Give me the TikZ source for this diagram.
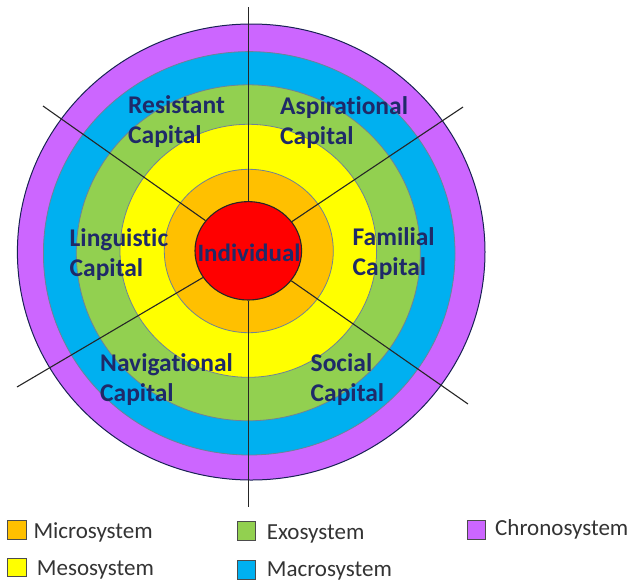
\documentclass[tikz,border=0pt]{standalone}
\usepackage{fontspec}
\setmainfont{Carlito}[Ligatures=NoCommon]
\usetikzlibrary{shapes.geometric}
\definecolor{cpurple}{RGB}{204,102,255}
\definecolor{cblue}{RGB}{0,176,240}
\definecolor{cgreen}{RGB}{146,208,80}
\definecolor{cyellow}{RGB}{255,255,0}
\definecolor{corange}{RGB}{255,192,0}
\definecolor{cred}{RGB}{255,0,0}
\definecolor{cnavy}{RGB}{31,42,104}
\definecolor{cring}{RGB}{110,130,150}
\tikzset{
  ring/.style={draw=cring, line width=0.8pt},
  spoke/.style={draw=black!85, line width=1.1pt},
  captext/.style={font=\fontsize{25.5}{30}\selectfont\bfseries, text=cnavy, align=left, anchor=base west, inner sep=0pt},
  legbox/.style={draw=black!70, line width=0.8pt, minimum size=18.5pt, inner sep=0pt},
  legtext/.style={font=\fontsize{23}{26}\selectfont, text=black!80, anchor=base west, inner sep=0pt}
}
\begin{document}
\begin{tikzpicture}[x=1pt,y=-1pt]
\useasboundingbox (0,0) rectangle (631,584);
% rings
\fill[cpurple, draw=cnavy!80!black, line width=1pt] (251.2,252) ellipse [x radius=233.8, y radius=228];
\filldraw[ring, fill=cblue] (249.2,253.3) ellipse [x radius=205.8, y radius=201.7];
\filldraw[ring, fill=cgreen] (248.3,252.8) ellipse [x radius=172, y radius=168];
\filldraw[ring, fill=cyellow] (248.3,250.8) ellipse [x radius=128.3, y radius=126.5];
\filldraw[ring, fill=corange] (248.8,251) ellipse [x radius=84.5, y radius=81.7];
% center
\node[ellipse, draw=black!85, line width=1.1pt, fill=cred, minimum width=106.6pt, minimum height=98.4pt, inner sep=0pt] (ind) at (248.3,250.8) {};
\node[font=\fontsize{25}{30}\selectfont\bfseries, text=cnavy, anchor=base, inner sep=0pt] (indt) at (249,261.5) {Individual};
% spokes
\coordinate (top) at (248.3,7);
\coordinate (bot) at (248.3,507);
\coordinate (ul) at (43,106);
\coordinate (ur) at (463,107);
\coordinate (ll) at (17,387);
\coordinate (lr) at (468,404);
\draw[spoke] (top) -- (ind);
\draw[spoke] (ind) -- (bot);
\draw[spoke] (ul) -- (ind);
\draw[spoke] (ur) -- (ind);
\draw[spoke] (ll) -- (ind);
\draw[spoke] (lr) -- (ind);
% capitals (anchor = baseline of the last line)
\node[captext] (res) at (128,143) {Resistant\\Capital};
\node[captext] (asp) at (280,144) {Aspirational\\Capital};
\node[captext] (lin) at (69.5,276.5) {Linguistic\\Capital};
\node[captext] (fam) at (352.5,275.5) {Familial\\Capital};
\node[captext] (nav) at (100,401.5) {Navigational\\Capital};
\node[captext] (soc) at (310.5,401) {Social\\Capital};
% legend
\node[legbox, fill=corange] (b1) at (17,530) {};
\node[legtext] (t1) at (33.3,538.5) {Microsystem};
\node[legbox, fill=cyellow] (b2) at (17,567.5) {};
\node[legtext] (t2) at (36.7,575.5) {Mesosystem};
\node[legbox, fill=cgreen] (b3) at (246.2,531) {};
\node[legtext] (t3) at (266.7,539.3) {Exosystem};
\node[legbox, fill=cblue] (b4) at (246.5,570) {};
\node[legtext] (t4) at (266.7,576.7) {Macrosystem};
\node[legbox, fill=cpurple] (b5) at (476.3,529.7) {};
\node[legtext] (t5) at (495,535.7) {Chronosystem};
\end{tikzpicture}
\end{document}
